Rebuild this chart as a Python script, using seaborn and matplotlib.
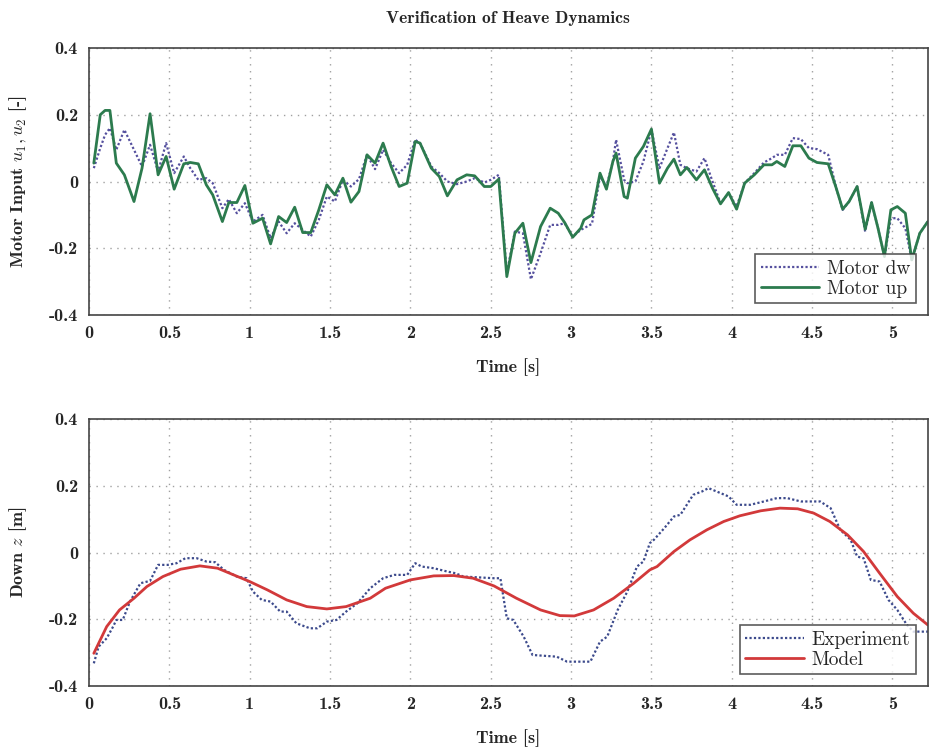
import matplotlib
matplotlib.use("Agg")
import matplotlib.pyplot as plt
import seaborn as sns
import pandas as pd

# ---- Motor inputs (top panel) ----
t_motor = [0.03, 0.07, 0.10, 0.13, 0.17, 0.22, 0.28, 0.33, 0.38, 0.43, 0.48, 0.53,
           0.59, 0.63, 0.68, 0.73, 0.77, 0.83, 0.87, 0.92, 0.97, 1.02, 1.08, 1.13,
           1.18, 1.23, 1.28, 1.33, 1.38, 1.43, 1.48, 1.53, 1.58, 1.63, 1.68, 1.73,
           1.78, 1.83, 1.88, 1.93, 1.98, 2.03, 2.06, 2.13, 2.18, 2.23, 2.29, 2.35,
           2.40, 2.46, 2.50, 2.55, 2.60, 2.65, 2.70, 2.75, 2.81, 2.87, 2.92, 2.96,
           3.01, 3.06, 3.08, 3.13, 3.18, 3.22, 3.26, 3.28, 3.33, 3.35, 3.40, 3.45,
           3.50, 3.55, 3.60, 3.64, 3.68, 3.72, 3.78, 3.83, 3.88, 3.93, 3.98, 4.03,
           4.08, 4.14, 4.20, 4.25, 4.28, 4.33, 4.38, 4.43, 4.48, 4.53, 4.60, 4.65,
           4.69, 4.73, 4.78, 4.83, 4.87, 4.91, 4.95, 4.99, 5.03, 5.08, 5.12, 5.17,
           5.22]
motor_up = [0.055, 0.200, 0.213, 0.213, 0.055, 0.020, -0.060, 0.040, 0.203, 0.020, 0.075, -0.023,
            0.053, 0.057, 0.053, -0.010, -0.040, -0.120, -0.063, -0.063, -0.012, -0.125, -0.110, -0.187,
            -0.105, -0.123, -0.077, -0.153, -0.153, -0.085, -0.010, -0.040, 0.010, -0.062, -0.030, 0.080,
            0.055, 0.115, 0.045, -0.015, -0.005, 0.120, 0.115, 0.040, 0.015, -0.043, 0.005, 0.020,
            0.017, -0.015, -0.015, 0.007, -0.285, -0.155, -0.125, -0.243, -0.135, -0.080, -0.095, -0.123,
            -0.167, -0.140, -0.115, -0.100, 0.025, -0.023, 0.060, 0.085, -0.045, -0.050, 0.070, 0.105,
            0.157, -0.005, 0.040, 0.067, 0.020, 0.042, 0.005, 0.035, -0.020, -0.067, -0.033, -0.083,
            -0.005, 0.020, 0.050, 0.050, 0.060, 0.045, 0.107, 0.107, 0.070, 0.057, 0.053, -0.020,
            -0.083, -0.060, -0.015, -0.143, -0.063, -0.140, -0.225, -0.085, -0.075, -0.095, -0.235, -0.155,
            -0.120]
motor_dw = [0.040, 0.100, 0.140, 0.160, 0.095, 0.155, 0.095, 0.045, 0.110, 0.030, 0.115, 0.025,
            0.075, 0.040, 0.005, 0.010, -0.005, -0.080, -0.053, -0.095, -0.065, -0.120, -0.100, -0.170,
            -0.120, -0.155, -0.125, -0.145, -0.165, -0.115, -0.045, -0.060, 0.005, -0.015, 0.007, 0.080,
            0.037, 0.095, 0.055, 0.025, 0.050, 0.125, 0.115, 0.045, 0.025, 0.000, -0.008, 0.000,
            0.010, -0.003, 0.005, 0.020, -0.275, -0.150, -0.155, -0.293, -0.215, -0.130, -0.130, -0.125,
            -0.165, -0.145, -0.140, -0.127, 0.015, -0.015, 0.060, 0.125, 0.005, -0.005, 0.000, 0.060,
            0.155, 0.040, 0.100, 0.147, 0.050, 0.040, 0.030, 0.070, 0.000, -0.065, -0.035, -0.075,
            -0.005, 0.025, 0.057, 0.070, 0.080, 0.080, 0.130, 0.127, 0.100, 0.097, 0.080, -0.020,
            -0.085, -0.060, -0.015, -0.150, -0.063, -0.140, -0.225, -0.110, -0.110, -0.140, -0.235, -0.155,
            -0.120]

# ---- Heave position (bottom panel) ----
t_exp = [0.03, 0.06, 0.11, 0.15, 0.17, 0.21, 0.255, 0.32, 0.38, 0.43, 0.49, 0.545,
         0.60, 0.67, 0.73, 0.785, 0.84, 0.92, 0.98, 1.02, 1.075, 1.13, 1.19, 1.23,
         1.29, 1.375, 1.42, 1.48, 1.54, 1.60, 1.67, 1.75, 1.83, 1.90, 1.98, 2.03,
         2.07, 2.145, 2.23, 2.28, 2.33, 2.52, 2.56, 2.60, 2.64, 2.705, 2.76, 2.91,
         2.975, 3.12, 3.18, 3.225, 3.29, 3.35, 3.41, 3.45, 3.49, 3.515, 3.58, 3.64,
         3.68, 3.76, 3.815, 3.855, 3.93, 3.98, 4.03, 4.115, 4.20, 4.28, 4.345, 4.43,
         4.55, 4.615, 4.675, 4.74, 4.78, 4.82, 4.865, 4.92, 4.975, 5.03, 5.09, 5.13,
         5.22]
z_exp = [-0.332, -0.282, -0.257, -0.222, -0.202, -0.202, -0.147, -0.092, -0.085, -0.037, -0.037, -0.032,
         -0.017, -0.017, -0.027, -0.029, -0.052, -0.072, -0.077, -0.117, -0.142, -0.147, -0.177, -0.177,
         -0.212, -0.227, -0.227, -0.207, -0.202, -0.177, -0.152, -0.107, -0.077, -0.067, -0.067, -0.032,
         -0.042, -0.047, -0.057, -0.062, -0.072, -0.077, -0.077, -0.197, -0.202, -0.252, -0.307, -0.312,
         -0.327, -0.327, -0.267, -0.252, -0.172, -0.117, -0.042, -0.027, 0.028, 0.038, 0.073, 0.108,
         0.113, 0.173, 0.183, 0.193, 0.178, 0.168, 0.143, 0.143, 0.153, 0.163, 0.163, 0.153,
         0.153, 0.133, 0.068, 0.038, -0.012, -0.017, -0.082, -0.087, -0.142, -0.172, -0.217, -0.237,
         -0.237]

t_model = [0.03, 0.11, 0.19, 0.28, 0.36, 0.46, 0.57, 0.69, 0.80, 0.90, 1.00, 1.11,
           1.23, 1.355, 1.48, 1.60, 1.75, 1.845, 2.00, 2.145, 2.27, 2.39, 2.52, 2.66,
           2.81, 2.93, 3.02, 3.14, 3.265, 3.39, 3.49, 3.535, 3.64, 3.74, 3.845, 3.95,
           4.05, 4.18, 4.30, 4.41, 4.51, 4.61, 4.72, 4.82, 4.92, 5.03, 5.13, 5.22]
z_model = [-0.302, -0.222, -0.172, -0.137, -0.102, -0.072, -0.050, -0.040, -0.047, -0.067, -0.087, -0.112,
           -0.142, -0.162, -0.169, -0.162, -0.137, -0.107, -0.082, -0.070, -0.069, -0.077, -0.100, -0.137,
           -0.172, -0.189, -0.190, -0.172, -0.137, -0.092, -0.052, -0.042, 0.003, 0.038, 0.068, 0.093,
           0.110, 0.125, 0.133, 0.131, 0.118, 0.093, 0.053, 0.003, -0.062, -0.132, -0.182, -0.217]

x_ticks = [0, 0.5, 1, 1.5, 2, 2.5, 3, 3.5, 4, 4.5, 5]
x_tick_labels = ["0", "0.5", "1", "1.5", "2", "2.5", "3", "3.5", "4", "4.5", "5"]
y_ticks = [-0.4, -0.2, 0, 0.2, 0.4]
y_tick_labels = ["-0.4", "-0.2", "0", "0.2", "0.4"]

sns.set_style("white")
plt.rcParams["font.family"] = ["cmr10", "DejaVu Serif"]
plt.rcParams["mathtext.fontset"] = "cm"
plt.rcParams["axes.unicode_minus"] = False

fig = plt.figure(figsize=(9.31, 7.5), dpi=100)
ax1 = fig.add_axes([0.0956, 0.58, 0.901, 0.356])
ax2 = fig.add_axes([0.0956, 0.0853, 0.901, 0.356])

motor_df = pd.DataFrame({"t": t_motor, "dw": motor_dw, "up": motor_up})
exp_df = pd.DataFrame({"t": t_exp, "z": z_exp})
model_df = pd.DataFrame({"t": t_model, "z": z_model})

sns.lineplot(data=motor_df, x="t", y="dw", ax=ax1, color="#55509e",
             linestyle=(0, (1, 1)), linewidth=1.6, label="Motor dw")
sns.lineplot(data=motor_df, x="t", y="up", ax=ax1, color="#2c7b4e",
             linewidth=2.0, label="Motor up")

sns.lineplot(data=exp_df, x="t", y="z", ax=ax2, color="#3c4a8c",
             linestyle=(0, (1, 1)), linewidth=1.6, label="Experiment")
sns.lineplot(data=model_df, x="t", y="z", ax=ax2, color="#d2393a",
             linewidth=2.0, label="Model")

bold_serif = ["cmb10", "DejaVu Serif"]
tick_font = {"family": bold_serif, "size": 13}

for ax, ylab in ((ax1, r"Motor Input $u_1, u_2$ [-]"), (ax2, r"Down $z$ [m]")):
    ax.set_xlim(0, 5.22)
    ax.set_ylim(-0.4, 0.4)
    ax.set_xticks(x_ticks)
    ax.set_xticklabels(x_tick_labels, fontdict=tick_font)
    ax.set_yticks(y_ticks)
    ax.set_yticklabels(y_tick_labels, fontdict=tick_font)
    ax.tick_params(direction="in", length=4, color="#555555", pad=8)
    ax.grid(True, linestyle=(0, (1, 4)), color="#a0a0a0", linewidth=1.0)
    for s in ax.spines.values():
        s.set_color("#444444")
        s.set_linewidth(1.2)
    ax.set_xlabel("Time [s]", fontsize=13, labelpad=12, family=bold_serif)
    ax.set_ylabel(ylab, fontsize=13, labelpad=14, family=bold_serif)
    leg = ax.legend(loc="lower right", fontsize=14, frameon=True, fancybox=False,
                    borderaxespad=0.6, handlelength=3.0, handletextpad=0.4,
                    borderpad=0.3, labelspacing=0.1)
    leg.get_frame().set_edgecolor("#333333")
    leg.get_frame().set_linewidth(1.2)

ax1.set_title("Verification of Heave Dynamics", fontsize=12.5, pad=18,
              family=bold_serif)

fig.savefig("out.png", dpi=100)
